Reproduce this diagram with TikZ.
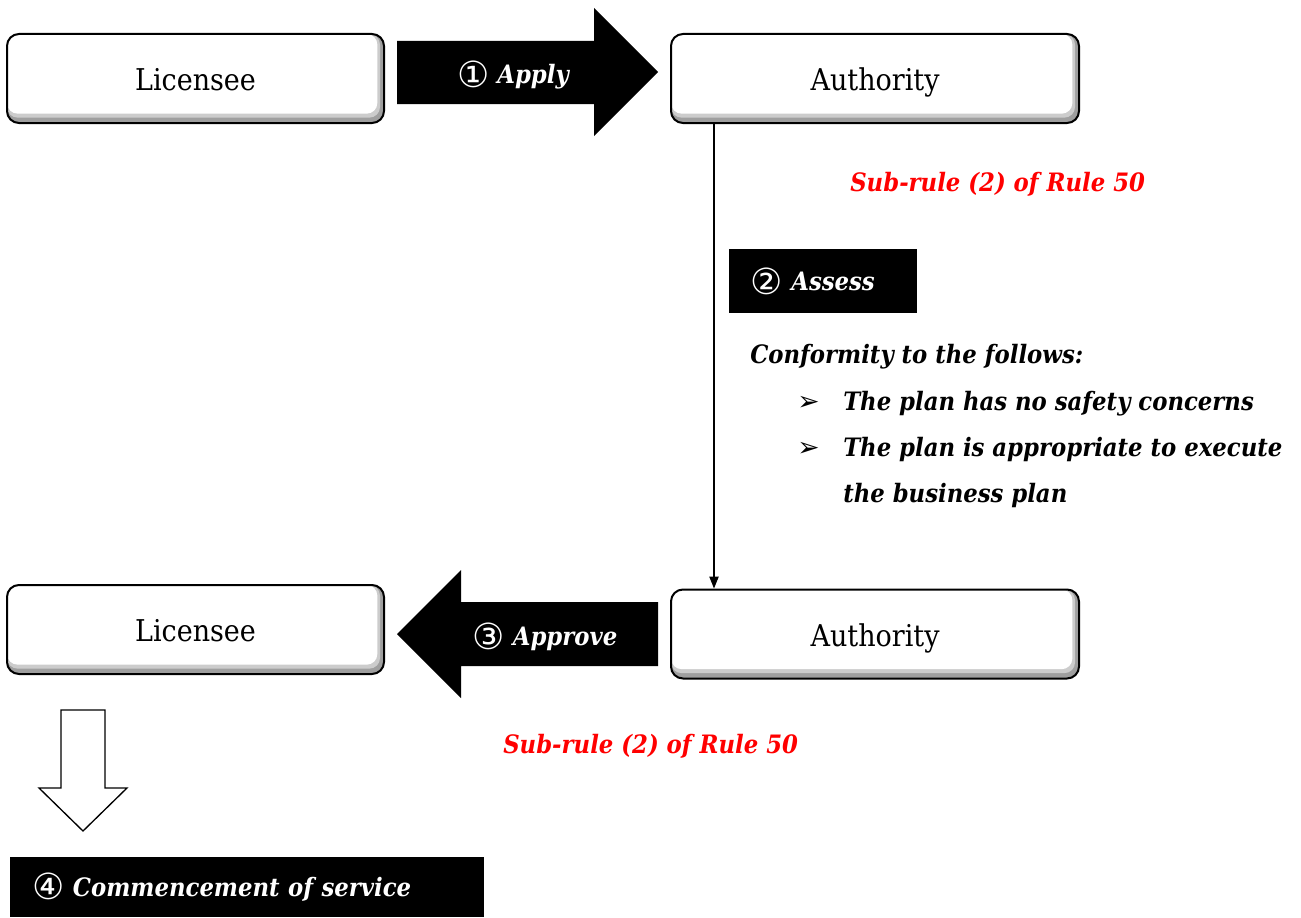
\documentclass[tikz,border=0pt]{standalone}
\usepackage{fontspec}
\setmainfont{DejaVu Serif Condensed}
\newfontfamily\symfont{DejaVu Sans}
\usetikzlibrary{arrows.meta}
\newcommand{\circd}[1]{\raisebox{-2.5pt}{\symfont\mdseries\upshape\fontsize{27}{27}\selectfont #1}}
\begin{document}
\begin{tikzpicture}[x=0.75pt,y=-0.75pt,
  box/.style={draw=black, line width=1.5pt, rounded corners=9pt, fill=white,
    font=\fontsize{22.5}{26}\selectfont, inner sep=0pt, minimum height=66.75pt,
    text height=18.5pt, text depth=0pt,
    path picture={
      \fill[gray!75] (path picture bounding box.south west) rectangle (path picture bounding box.north east);
      \fill[gray!40, rounded corners=8pt] (path picture bounding box.north west) rectangle ([shift={(-3pt,4pt)}]path picture bounding box.south east);
      \fill[white, rounded corners=8pt] (path picture bounding box.north west) rectangle ([shift={(-5pt,7pt)}]path picture bounding box.south east);
    }},
  blk/.style={fill=black},
  itf/.style={font=\fontsize{19}{22}\selectfont\bfseries\itshape},
  wlabel/.style={itf, text=white, inner sep=0pt},
  note/.style={itf, inner sep=0pt, anchor=base west},
  rulenote/.style={note, text=red},
  bul/.style={font=\symfont\fontsize{20}{20}\selectfont, inner sep=0pt, anchor=base west},
  conn/.style={line width=1pt, -{Triangle[width=7pt,length=9pt]}}
]
\useasboundingbox (0,0) rectangle (1301,917);

% boxes
\node[box, minimum width=282.75pt] (lic1) at (195.5,78.5) {Licensee};
\node[box, minimum width=306pt] (auth1) at (875,78.5) {Authority};
\node[box, minimum width=282.75pt] (lic2) at (195.5,629.5) {Licensee};
\node[box, minimum width=306pt] (auth2) at (875,634) {Authority};

% apply arrow
\fill[blk] (397,41) -- (594,41) -- (594,8) -- (658,72) -- (594,136) -- (594,104) -- (397,104) -- cycle;
\node[wlabel] (apply) at (513,75) {\circd{①}\ Apply};

% approve arrow
\fill[blk] (658,602) -- (461,602) -- (461,570) -- (397,634) -- (461,698) -- (461,666) -- (658,666) -- cycle;
\node[wlabel] (approve) at (545,637) {\circd{③}\ Approve};

% vertical connector
\draw[conn] ([xshift=33pt]auth1.south west) -- ([xshift=33pt]auth2.north west);

% rule notes
\node[rulenote] (r1) at (850,191) {Sub-rule (2) of Rule 50};
\node[rulenote] (r2) at (503,753) {Sub-rule (2) of Rule 50};

% assess
\node[blk, anchor=west, minimum height=48pt, inner xsep=16pt, text width=109pt, align=left,
      text=white, itf] (assess) at (729,281) {\circd{②}\ Assess};

% conformity
\node[note] (conf) at (750,363) {Conformity to the follows:};
\node[bul] (b1) at (797,410) {➢};
\node[note] (c1) at (843,410) {The plan has no safety concerns};
\node[bul] (b2) at (797,456) {➢};
\node[note] (c2) at (843,456) {The plan is appropriate to execute};
\node[note] (c3) at (843,502) {the business plan};

% down arrow
\draw[line width=1pt, fill=white] (61,710) -- (105,710) -- (105,788) -- (127,788) -- (83,831) -- (39,788) -- (61,788) -- cycle;

% commencement
\node[blk, anchor=west, minimum height=45pt, inner xsep=16.5pt, text width=322.5pt, align=left,
      text=white, itf] (comm) at (10,887) {\circd{④}\ Commencement of service};
\end{tikzpicture}
\end{document}
